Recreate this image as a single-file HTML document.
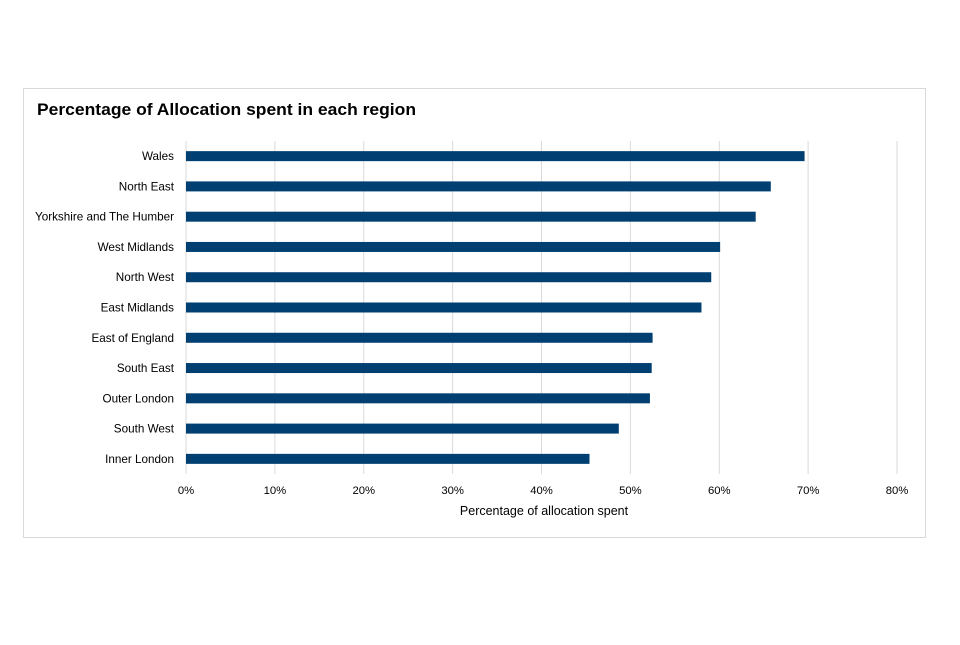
<!DOCTYPE html>
<html><head><meta charset="utf-8"><style>
body{margin:0;background:#fff;width:960px;height:640px;overflow:hidden;font-family:"Liberation Sans",sans-serif}
</style></head><body>
<svg width="960" height="640">
<rect x="23.5" y="88.5" width="902" height="449" fill="#fff" stroke="#d9d9d9"/>
<text x="37" y="115" font-size="17" font-weight="bold" fill="#000" textLength="379" lengthAdjust="spacingAndGlyphs">Percentage of Allocation spent in each region</text>
<g id="grid"></g><g id="bars"></g><g id="cats"></g><g id="ticks"></g>
<text x="544" y="515" font-size="12.5" text-anchor="middle" fill="#000">Percentage of allocation spent</text>
</svg>
<script>
const categories=["Wales","North East","Yorkshire and The Humber","West Midlands","North West","East Midlands","East of England","South East","Outer London","South West","Inner London"];
const values=[69.6,65.8,64.1,60.1,59.1,58.0,52.5,52.4,52.2,48.7,45.4];
const tickValues=[0,10,20,30,40,50,60,70,80];
const tickLabels=["0%","10%","20%","30%","40%","50%","60%","70%","80%"];
const NS="http://www.w3.org/2000/svg";
const x0=186,x1=897,vmax=80,yTop=141,yBot=474;
const xs=v=>x0+(v/vmax)*(x1-x0);
const step=(yBot-yTop)/categories.length;
const yc=i=>yTop+step*(i+0.5);
function mk(t,a,p){const e=document.createElementNS(NS,t);for(const k in a)e.setAttribute(k,a[k]);document.getElementById(p).appendChild(e);return e;}
tickValues.forEach((v,i)=>{
 const l=mk("line",{x1:xs(v),x2:xs(v),y1:yTop,y2:yBot,stroke:"#d9d9d9","stroke-width":1},"grid");
 
 
 const t=mk("text",{x:xs(v),y:494,"font-size":11.3,"text-anchor":"middle",fill:"#000"},"ticks");
 t.textContent=tickLabels[i];
 
 
});
categories.forEach((c,i)=>{
 const r=mk("rect",{x:x0,y:yc(i)-5,width:xs(values[i])-x0,height:10,fill:"#003f72"},"bars");
 
 
 const t=mk("text",{x:174,y:yc(i)+4,"font-size":11.7,"text-anchor":"end",fill:"#000"},"cats");
 t.textContent=c;
 
 
});
</script>
</body></html>
